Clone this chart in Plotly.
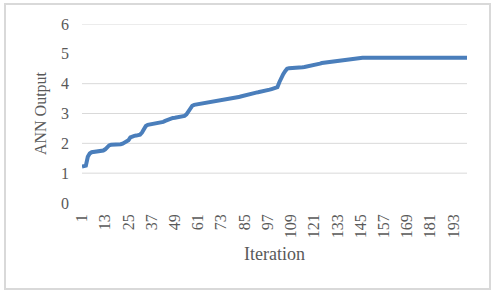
import plotly.graph_objects as go

iterations = list(range(1, 201))
ann_output = [
    1.22, 1.22, 1.25, 1.55, 1.66, 1.70, 1.71, 1.71, 1.72, 1.72,
    1.73, 1.76, 1.80, 1.87, 1.93, 1.95, 1.95, 1.95, 1.95, 1.96,
    1.97, 1.99, 2.02, 2.05, 2.10, 2.20, 2.24, 2.25, 2.26, 2.27,
    2.29, 2.36, 2.50, 2.58, 2.62, 2.63, 2.64, 2.66, 2.67, 2.68,
    2.69, 2.70, 2.72, 2.75, 2.78, 2.81, 2.83, 2.85, 2.86, 2.87,
    2.88, 2.89, 2.90, 2.92, 2.97, 3.08, 3.20, 3.26, 3.29, 3.30,
    3.31, 3.32, 3.33, 3.35, 3.36, 3.37, 3.39, 3.40, 3.41, 3.42,
    3.43, 3.44, 3.44, 3.45, 3.46, 3.47, 3.47, 3.48, 3.49, 3.50,
    3.52, 3.55, 3.57, 3.59, 3.60, 3.62, 3.64, 3.66, 3.68, 3.69,
    3.70, 3.71, 3.72, 3.73, 3.75, 3.77, 3.78, 3.80, 3.82, 3.84,
    3.85, 3.88, 4.05, 4.22, 4.32, 4.42, 4.50, 4.52, 4.52, 4.52,
    4.52, 4.53, 4.53, 4.54, 4.55, 4.56, 4.57, 4.58, 4.59, 4.60,
    4.62, 4.64, 4.66, 4.67, 4.69, 4.70, 4.71, 4.72, 4.72, 4.73,
    4.74, 4.75, 4.75, 4.76, 4.77, 4.78, 4.79, 4.80, 4.81, 4.82,
    4.83, 4.84, 4.85, 4.86, 4.87, 4.87, 4.87, 4.87, 4.87, 4.87,
    4.87, 4.87, 4.87, 4.87, 4.87, 4.87, 4.87, 4.87, 4.87, 4.87,
    4.87, 4.87, 4.87, 4.87, 4.87, 4.87, 4.87, 4.87, 4.87, 4.87,
    4.87, 4.87, 4.87, 4.87, 4.87, 4.87, 4.87, 4.87, 4.87, 4.87,
    4.87, 4.87, 4.87, 4.87, 4.87, 4.87, 4.87, 4.87, 4.87, 4.87,
    4.87, 4.87, 4.87, 4.87, 4.87, 4.87, 4.87, 4.87, 4.87, 4.87,
]
x_tick_vals = list(range(1, 201, 12))
x_tick_text = [str(v) for v in x_tick_vals]
y_tick_vals = [0, 1, 2, 3, 4, 5, 6]
grid_vals = [1, 2, 3, 4, 6]

W, H = 495, 294
ML, MR, MT, MB = 82, 28, 24, 91
pw, ph = W - ML - MR, H - MT - MB

fig = go.Figure()
fig.add_trace(go.Scatter(
    x=iterations, y=ann_output, mode="lines",
    line=dict(color="#4A7EBB", width=4), hoverinfo="skip",
))

shapes = []
for g in grid_vals:
    shapes.append(dict(type="line", xref="paper", yref="y", x0=0, x1=1, y0=g, y1=g,
                       line=dict(color="#D9D9D9", width=1), layer="below"))
# outer chart border
shapes.append(dict(type="rect", xref="paper", yref="paper",
                   x0=(5 - ML) / pw, x1=(490 - ML) / pw,
                   y0=(H - MB - 289) / ph, y1=(H - MB - 4) / ph,
                   line=dict(color="#D9D9D9", width=2)))

serif = "Liberation Serif, Times New Roman, serif"
fig.update_layout(
    width=W, height=H,
    margin=dict(l=ML, r=MR, t=MT, b=MB),
    paper_bgcolor="white", plot_bgcolor="white",
    showlegend=False,
    shapes=shapes,
    font=dict(family=serif, color="#595959", size=16),
    xaxis=dict(
        range=[1, 200], tickmode="array", tickvals=x_tick_vals, ticktext=x_tick_text,
        tickangle=-90, showgrid=False, zeroline=False, showline=False, ticks="",
        tickfont=dict(family=serif, size=16, color="#595959"),
        ticklabelstandoff=7,
        title=dict(text="Iteration", font=dict(family=serif, size=18, color="#595959"), standoff=10),
    ),
    yaxis=dict(
        range=[0, 6], tickmode="array", tickvals=y_tick_vals,
        showgrid=False, zeroline=False, showline=False, ticks="",
        tickfont=dict(family=serif, size=16, color="#595959"),
        ticklabelstandoff=12,
        title=dict(text="ANN Output", font=dict(family=serif, size=16, color="#595959"), standoff=10),
    ),
)

fig.write_html("out.html")
